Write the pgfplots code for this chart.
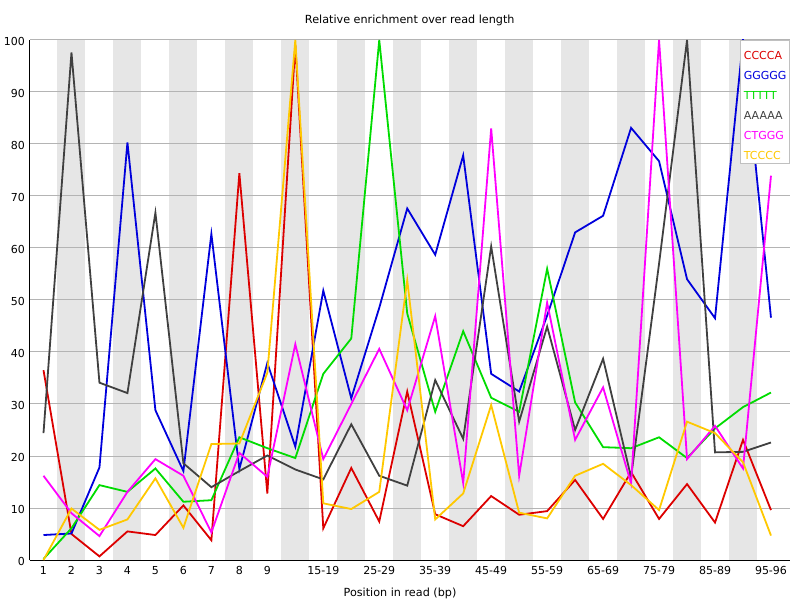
\documentclass[border=0pt]{standalone}
\usepackage{fontspec}
\setmainfont{DejaVu Sans}
\usepackage{pgfplots}
\pgfplotsset{compat=1.18}
\definecolor{cR}{RGB}{220,0,0}
\definecolor{cB}{RGB}{0,0,220}
\definecolor{cG}{RGB}{0,220,0}
\definecolor{cK}{RGB}{64,64,64}
\definecolor{cM}{RGB}{255,0,255}
\definecolor{cO}{RGB}{255,200,0}
\definecolor{bandc}{RGB}{230,230,230}
\definecolor{gridc}{RGB}{180,180,180}
\definecolor{legc}{RGB}{192,192,192}
\begin{document}
\begin{tikzpicture}
\path (0,0) rectangle (800pt,600pt);
\begin{axis}[
  set layers,
  at={(29.5pt,40pt)}, anchor=south west,
  scale only axis, width=760.5pt, height=520pt,
  xmin=-0.5, xmax=26.68, ymin=0, ymax=100,
  axis lines=left, axis line style={-, black, line width=1pt},
  ytick={0,10,...,100}, ymajorgrids, grid style={draw=gridc, line width=1pt},
  xtick={0,...,26},
  xticklabels={1,2,3,4,5,6,7,8,9,,15-19,,25-29,,35-39,,45-49,,55-59,,65-69,,75-79,,85-89,,95-96},
  major tick length=0pt,
  tick label style={font=\fontsize{11}{13}\selectfont},
  /pgf/number format/assume math mode=true,
  xticklabel style={anchor=base, yshift=-14pt, inner sep=0pt},
  yticklabel style={anchor=base east, xshift=-4.5pt, yshift=-5.4pt, inner sep=0pt},
  title={Relative enrichment over read length},
  title style={at={(0.5,1)}, anchor=base, yshift=10pt, inner sep=0pt, font=\fontsize{11.2}{13}\selectfont},
  xlabel={Position in read (bp)},
  xlabel style={at={(axis description cs:0.4872,0)}, anchor=base, yshift=-36pt, inner sep=0pt, font=\fontsize{11.2}{13}\selectfont},
  legend image code/.code={},
  legend cell align=left,
  legend style={at={(1,1)}, anchor=north east, draw=legc, line width=1pt, fill=white,
    inner xsep=3pt, inner ysep=1.5pt, row sep=0pt,
    font=\fontsize{11}{13}\selectfont,
    nodes={inner sep=0pt, text height=18pt, text depth=2pt},
    /tikz/every even column/.append style={column sep=0pt}},
  every axis plot/.append style={line width=1.8pt, line join=miter, no markers},
]
\begin{pgfonlayer}{axis background}
\pgfplotsinvokeforeach{1,3,5,7,9,11,13,15,17,19,21,23,25}{
  \fill[bandc] (axis cs:#1-0.5,0) rectangle (axis cs:#1+0.5,100);
}
\end{pgfonlayer}
% CCCCA
\addplot[cR] coordinates {(0,36.5)(1,5)(2,0.7)(3,5.5)(4,4.8)(5,10.5)(6,3.8)(7,74.4)(8,12.8)(9,99)(10,6.1)(11,17.7)(12,7.4)(13,32.4)(14,8.8)(15,6.5)(16,12.3)(17,8.7)(18,9.4)(19,15.4)(20,7.9)(21,16.9)(22,7.9)(23,14.6)(24,7.2)(25,23.1)(26,9.6)};
\addlegendentry{\textcolor{cR}{CCCCA}}
% GGGGG
\addplot[cB] coordinates {(0,4.8)(1,5.1)(2,17.8)(3,80.3)(4,28.8)(5,17.1)(6,62.7)(7,17.5)(8,37.9)(9,21.8)(10,51.8)(11,31.1)(12,48.5)(13,67.6)(14,58.7)(15,77.8)(16,35.8)(17,32.4)(18,47)(19,63.0)(20,66.2)(21,83.1)(22,76.7)(23,54.0)(24,46.5)(25,100)(26,46.6)};
\addlegendentry{\textcolor{cB}{GGGGG}}
% TTTTT
\addplot[cG] coordinates {(0,0.2)(1,6.1)(2,14.4)(3,13.1)(4,17.6)(5,11.2)(6,11.5)(7,23.6)(8,21.5)(9,19.6)(10,35.8)(11,42.6)(12,100)(13,47.4)(14,28.5)(15,44.0)(16,31.2)(17,28.5)(18,56.0)(19,30.3)(20,21.7)(21,21.5)(22,23.6)(23,19.6)(24,25.3)(25,29.4)(26,32.2)};
\addlegendentry{\textcolor{cG}{TTTTT}}
% AAAAA
\addplot[cK] coordinates {(0,24.4)(1,97.6)(2,34.1)(3,32.1)(4,66.8)(5,18.6)(6,14.0)(7,17.1)(8,20.1)(9,17.4)(10,15.5)(11,26.1)(12,16.2)(13,14.3)(14,34.6)(15,23.3)(16,60.3)(17,26.6)(18,44.9)(19,25.0)(20,38.7)(21,15.9)(22,57)(23,100)(24,20.7)(25,20.8)(26,22.6)};
\addlegendentry{\textcolor{cK}{AAAAA}}
% CTGGG
\addplot[cM] coordinates {(0,16.2)(1,9.0)(2,4.6)(3,13.1)(4,19.4)(5,16.2)(6,5.3)(7,20.6)(8,16.0)(9,41.5)(10,19.4)(11,30)(12,40.6)(13,28.8)(14,46.9)(15,14.8)(16,83)(17,16.2)(18,49.5)(19,23.1)(20,33.2)(21,14.7)(22,100)(23,19.4)(24,25.8)(25,17.6)(26,73.9)};
\addlegendentry{\textcolor{cM}{CTGGG}}
% TCCCC
\addplot[cO] coordinates {(0,0)(1,9.9)(2,5.8)(3,7.8)(4,15.7)(5,6.2)(6,22.3)(7,22.4)(8,36)(9,100)(10,10.9)(11,9.8)(12,13.1)(13,53.8)(14,7.8)(15,12.8)(16,29.8)(17,9.1)(18,8.0)(19,16.2)(20,18.5)(21,14.4)(22,9.6)(23,26.6)(24,24.4)(25,18.8)(26,4.7)};
\addlegendentry{\textcolor{cO}{TCCCC}}
\end{axis}
\end{tikzpicture}
\end{document}
